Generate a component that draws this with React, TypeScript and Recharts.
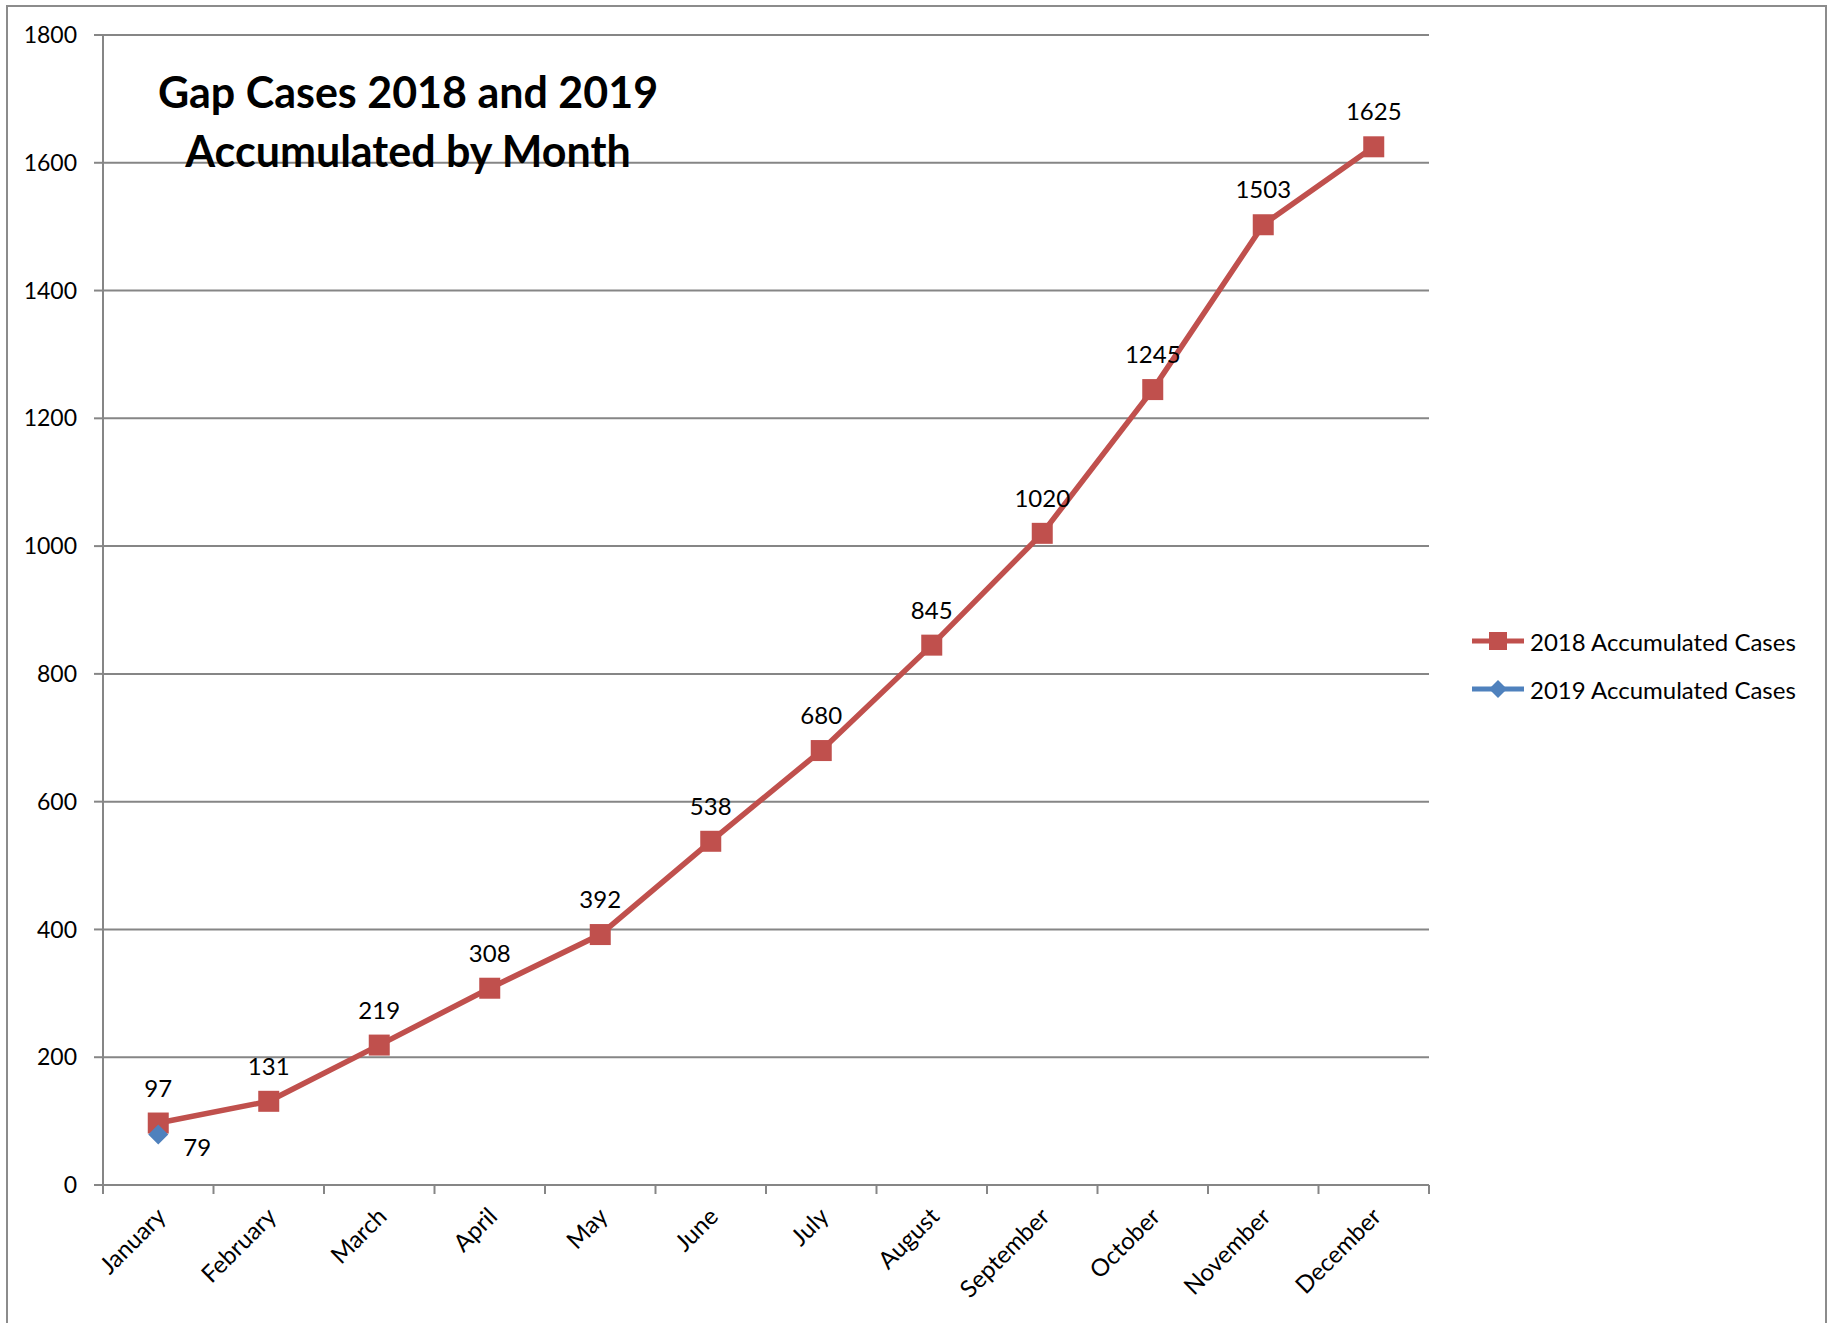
import { LineChart, Line, XAxis, YAxis, CartesianGrid, Legend, LabelList } from 'recharts'

const months = [
  'January', 'February', 'March', 'April', 'May', 'June',
  'July', 'August', 'September', 'October', 'November', 'December',
]
const cases2018 = [97, 131, 219, 308, 392, 538, 680, 845, 1020, 1245, 1503, 1625]
const cases2019: (number | null)[] = [79, null, null, null, null, null, null, null, null, null, null, null]
const yTicks = [0, 200, 400, 600, 800, 1000, 1200, 1400, 1600, 1800]

const data = months.map((m, i) => ({ month: m, y2018: cases2018[i], y2019: cases2019[i] }))

const W = 1834
const H = 1323
const M = { top: 35, right: 405, left: 0, bottom: 0 }
const Y_W = 103
const X_H = 138
const PLOT_W = W - M.left - M.right - Y_W
const BAND = PLOT_W / months.length

const RED = '#C0504D'
const BLUE = '#4F81BD'
const GRID = '#868686'
const FONT = 'Lato, "Open Sans", sans-serif'

function MonthTick(props: any) {
  const { x, y, payload, index } = props
  const half = BAND / 2
  return (
    <g>
      <line x1={x - half} x2={x - half} y1={y} y2={y + 9} stroke={GRID} strokeWidth={2} />
      {index === months.length - 1 && (
        <line x1={x + half} x2={x + half} y1={y} y2={y + 9} stroke={GRID} strokeWidth={2} />
      )}
      <text
        x={x + 9}
        y={y + 33}
        textAnchor="end"
        transform={`rotate(-45 ${x + 9} ${y + 33})`}
        fontSize={24}
        fontFamily={FONT}
        fill="#000"
      >
        {payload.value}
      </text>
    </g>
  )
}

function Square(props: any) {
  const { cx, cy } = props
  if (cx == null || cy == null) return null
  return <rect x={cx - 10.5} y={cy - 10.5} width={21} height={21} fill={RED} />
}

function Diamond(props: any) {
  const { cx, cy, value } = props
  if (cx == null || cy == null || value == null) return null
  return <path d={`M${cx},${cy - 10} L${cx + 10},${cy} L${cx},${cy + 10} L${cx - 10},${cy} Z`} fill={BLUE} />
}

function TopLabel(props: any) {
  const { x, y, value } = props
  if (value == null) return null
  return (
    <text x={x} y={y - 36} textAnchor="middle" dominantBaseline="central" fontSize={24} fontFamily={FONT} fill="#000">
      {value}
    </text>
  )
}

function SideLabel(props: any) {
  const { x, y, value } = props
  if (value == null) return null
  return (
    <text x={x + 39} y={y + 12} textAnchor="middle" dominantBaseline="central" fontSize={24} fontFamily={FONT} fill="#000">
      {value}
    </text>
  )
}

function LegendBox() {
  const rows = [
    { name: '2018 Accumulated Cases', color: RED, shape: 'square' },
    { name: '2019 Accumulated Cases', color: BLUE, shape: 'diamond' },
  ]
  return (
    <div style={{ fontFamily: FONT, fontSize: 24 }}>
      {rows.map((r) => (
        <div key={r.name} style={{ display: 'flex', alignItems: 'center', height: 48 }}>
          <svg width={56} height={24}>
            <line x1={1} x2={53} y1={12} y2={12} stroke={r.color} strokeWidth={5} />
            {r.shape === 'square' ? (
              <rect x={18} y={3} width={18} height={18} fill={r.color} />
            ) : (
              <path d="M27,3 L36,12 L27,21 L18,12 Z" fill={r.color} />
            )}
          </svg>
          <span style={{ marginLeft: 3 }}>{r.name}</span>
        </div>
      ))}
    </div>
  )
}

export default function App() {
  return (
    <div style={{ position: 'absolute', left: 0, top: 0, width: W, height: H, overflow: 'hidden', background: '#fff' }}>
      <div
        style={{
          position: 'absolute',
          left: 6,
          top: 5,
          width: 1817,
          height: 1340,
          border: '2px solid #8c8c8c',
        }}
      />
      <LineChart width={W} height={H} data={data} margin={M} style={{ position: 'absolute', left: 0, top: 0 }}>
        <CartesianGrid vertical={false} stroke={GRID} strokeWidth={2} />
        <XAxis
          dataKey="month"
          height={X_H}
          interval={0}
          padding={{ left: BAND / 2, right: BAND / 2 }}
          axisLine={{ stroke: GRID, strokeWidth: 2 }}
          tickLine={false}
          tickSize={0}
          tickMargin={0}
          tick={<MonthTick />}
        />
        <YAxis
          width={Y_W}
          domain={[0, 1800]}
          ticks={yTicks}
          interval={0}
          axisLine={{ stroke: GRID, strokeWidth: 2 }}
          tickLine={{ stroke: GRID, strokeWidth: 2 }}
          tickSize={9}
          tickMargin={17}
          tick={{ fontSize: 23, fontFamily: FONT, fill: '#000' }}
        />
        <Legend
          layout="horizontal"
          verticalAlign="middle"
          align="center"
          content={<LegendBox />}
          wrapperStyle={{ left: 1471, top: 617, width: 360 }}
        />
        <Line
          dataKey="y2018"
          name="2018 Accumulated Cases"
          stroke={RED}
          strokeWidth={5.5}
          dot={<Square />}
          activeDot={false}
          isAnimationActive={false}
        >
          <LabelList dataKey="y2018" content={<TopLabel />} />
        </Line>
        <Line
          dataKey="y2019"
          name="2019 Accumulated Cases"
          stroke={BLUE}
          strokeWidth={5.5}
          dot={<Diamond />}
          activeDot={false}
          isAnimationActive={false}
        >
          <LabelList dataKey="y2019" content={<SideLabel />} />
        </Line>
      </LineChart>
      <div
        style={{
          position: 'absolute',
          left: 108,
          width: 600,
          top: 62,
          textAlign: 'center',
          whiteSpace: 'nowrap',
          fontFamily: FONT,
          fontWeight: 700,
          fontSize: 43,
          lineHeight: '59px',
          color: '#000',
        }}
      >
        Gap Cases 2018 and 2019
        <br />
        Accumulated by Month
      </div>
    </div>
  )
}
